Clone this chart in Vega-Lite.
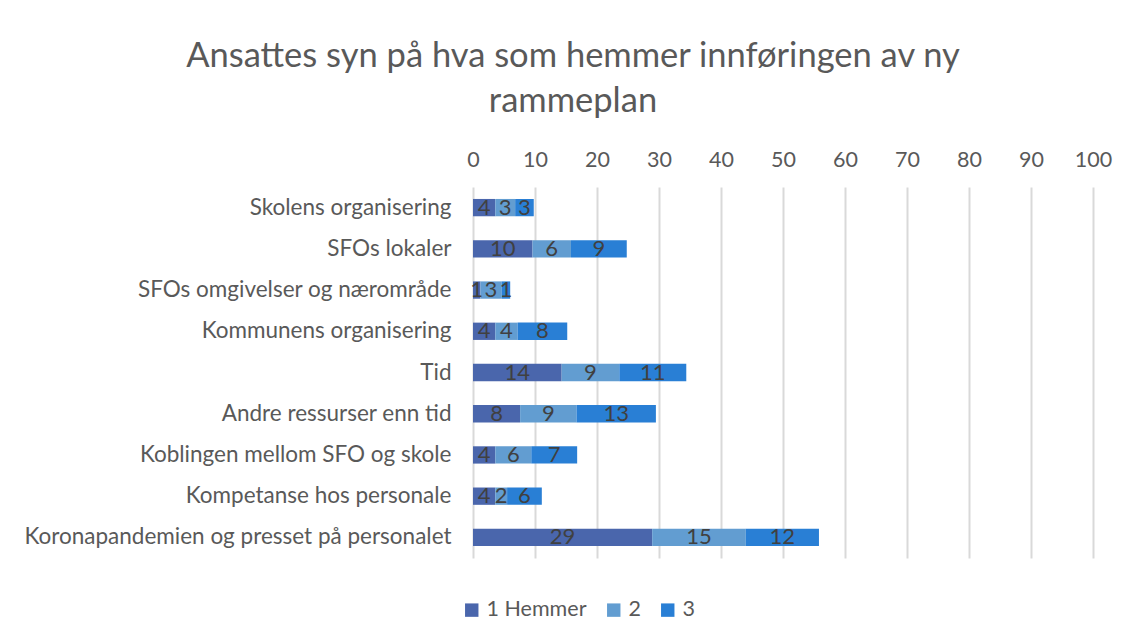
{
  "$schema": "https://vega.github.io/schema/vega-lite/v6.json",
  "width": 620,
  "height": 371,
  "autosize": {"type": "none"},
  "padding": {"left": 473, "top": 187, "right": 36, "bottom": 83},
  "background": "white",
  "config": {
    "font": "Lato",
    "view": {"stroke": null}
  },
  "title": {
    "text": ["Ansattes syn på hva som hemmer innføringen av ny", "rammeplan"],
    "fontSize": 34.5,
    "font": "Lato",
    "fontWeight": "normal",
    "color": "#595959",
    "anchor": "middle",
    "dx": -210,
    "offset": 30,
    "lineHeight": 45
  },
  "data": {
    "values": [
      {"cat": "Skolens organisering", "serie": "1 Hemmer", "o": 1, "value": 3.6},
      {"cat": "Skolens organisering", "serie": "2", "o": 2, "value": 3.2},
      {"cat": "Skolens organisering", "serie": "3", "o": 3, "value": 3.0},
      {"cat": "SFOs lokaler", "serie": "1 Hemmer", "o": 1, "value": 9.6},
      {"cat": "SFOs lokaler", "serie": "2", "o": 2, "value": 6.2},
      {"cat": "SFOs lokaler", "serie": "3", "o": 3, "value": 9.0},
      {"cat": "SFOs omgivelser og nærområde", "serie": "1 Hemmer", "o": 1, "value": 1.2},
      {"cat": "SFOs omgivelser og nærområde", "serie": "2", "o": 2, "value": 3.4},
      {"cat": "SFOs omgivelser og nærområde", "serie": "3", "o": 3, "value": 1.4},
      {"cat": "Kommunens organisering", "serie": "1 Hemmer", "o": 1, "value": 3.6},
      {"cat": "Kommunens organisering", "serie": "2", "o": 2, "value": 3.6},
      {"cat": "Kommunens organisering", "serie": "3", "o": 3, "value": 8.0},
      {"cat": "Tid", "serie": "1 Hemmer", "o": 1, "value": 14.3},
      {"cat": "Tid", "serie": "2", "o": 2, "value": 9.3},
      {"cat": "Tid", "serie": "3", "o": 3, "value": 10.8},
      {"cat": "Andre ressurser enn tid", "serie": "1 Hemmer", "o": 1, "value": 7.6},
      {"cat": "Andre ressurser enn tid", "serie": "2", "o": 2, "value": 9.1},
      {"cat": "Andre ressurser enn tid", "serie": "3", "o": 3, "value": 12.8},
      {"cat": "Koblingen mellom SFO og skole", "serie": "1 Hemmer", "o": 1, "value": 3.6},
      {"cat": "Koblingen mellom SFO og skole", "serie": "2", "o": 2, "value": 5.8},
      {"cat": "Koblingen mellom SFO og skole", "serie": "3", "o": 3, "value": 7.4},
      {"cat": "Kompetanse hos personale", "serie": "1 Hemmer", "o": 1, "value": 3.6},
      {"cat": "Kompetanse hos personale", "serie": "2", "o": 2, "value": 1.9},
      {"cat": "Kompetanse hos personale", "serie": "3", "o": 3, "value": 5.6},
      {"cat": "Koronapandemien og presset på personalet", "serie": "1 Hemmer", "o": 1, "value": 28.9},
      {"cat": "Koronapandemien og presset på personalet", "serie": "2", "o": 2, "value": 15.1},
      {"cat": "Koronapandemien og presset på personalet", "serie": "3", "o": 3, "value": 11.8}
    ]
  },
  "encoding": {
    "y": {
      "field": "cat",
      "type": "nominal",
      "sort": null,
      "title": null,
      "scale": {"paddingInner": 0.58, "paddingOuter": 0.29},
      "axis": {
        "domain": false,
        "ticks": false,
        "labelFontSize": 22.5,
        "labelColor": "#595959",
        "labelPadding": 22,
        "labelLimit": 500
      }
    }
  },
  "layer": [
    {
      "mark": {"type": "bar"},
      "encoding": {
        "x": {
          "field": "value",
          "type": "quantitative",
          "stack": "zero",
          "title": null,
          "scale": {"domain": [0, 100], "nice": false},
          "axis": {
            "orient": "top",
            "values": [0, 10, 20, 30, 40, 50, 60, 70, 80, 90, 100],
            "domain": false,
            "ticks": false,
            "grid": true,
            "gridColor": "#d9d9d9",
            "gridWidth": 2,
            "labelFontSize": 21.5,
            "labelColor": "#595959",
            "labelPadding": 16,
            "labelFlush": false
          }
        },
        "color": {
          "field": "serie",
          "type": "nominal",
          "scale": {
            "domain": ["1 Hemmer", "2", "3"],
            "range": ["#4A66AC", "#629DD1", "#297FD5"]
          },
          "legend": {
            "title": null,
            "orient": "none",
            "direction": "horizontal",
            "legendX": -12,
            "legendY": 412,
            "symbolType": "square",
            "symbolSize": 180,
            "symbolStrokeWidth": 0,
            "labelFontSize": 21.5,
            "labelColor": "#595959",
            "columnPadding": 16,
            "labelOffset": 4
          }
        },
        "order": {"field": "o", "type": "quantitative"}
      }
    },
    {
      "mark": {"type": "text", "fontSize": 22, "color": "#404040", "baseline": "middle"},
      "encoding": {
        "x": {"field": "value", "type": "quantitative", "stack": "zero", "bandPosition": 0.5},
        "detail": {"field": "serie", "type": "nominal"},
        "order": {"field": "o", "type": "quantitative"},
        "text": {"field": "value", "type": "quantitative", "format": ".0f"}
      }
    }
  ]
}
